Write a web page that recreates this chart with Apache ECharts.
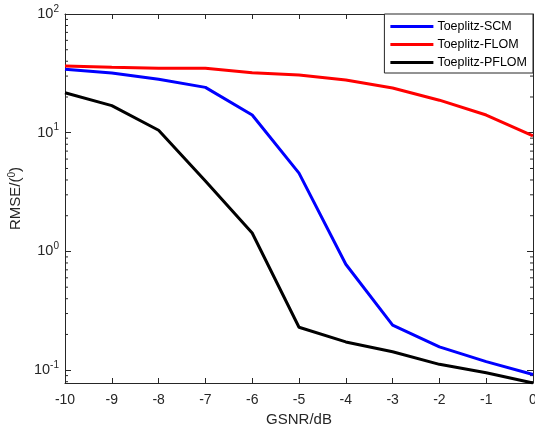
<!DOCTYPE html>
<html>
<head>
<meta charset="utf-8">
<script src="https://cdn.jsdelivr.net/npm/echarts@6/dist/echarts.min.js"></script>
<style>html,body{margin:0;padding:0;background:#fff}#c{width:535px;height:428px}</style>
</head>
<body>
<div id="c"></div>
<script>
const categories = [-10, -9, -8, -7, -6, -5, -4, -3, -2, -1, 0];
const scm   = [34.2, 31.9, 28.2, 24.1, 14.1, 4.57, 0.78, 0.24, 0.157, 0.118, 0.092];
const flom  = [36.5, 35.6, 35.0, 35.0, 32.0, 30.6, 27.8, 23.8, 18.8, 14.1, 9.4];
const pflom = [21.7, 16.9, 10.5, 3.92, 1.43, 0.23, 0.173, 0.143, 0.112, 0.095, 0.078];
const seriesNames = ['Toeplitz-SCM', 'Toeplitz-FLOM', 'Toeplitz-PFLOM'];
const xTicks = [-10, -9, -8, -7, -6, -5, -4, -3, -2, -1, 0];
const yMin = 0.078, yMax = 100;

const minorVals = [];
for (let e = -2; e < 2; e++) for (let m = 2; m <= 9; m++) {
  const v = m * Math.pow(10, e);
  if (v > yMin && v < yMax) minorVals.push(v);
}

const txt = '#262626';
const chart = echarts.init(document.getElementById('c'), null, {renderer: 'canvas'});
const pair = arr => categories.map((x, i) => [x, arr[i]]);
const lineSeries = (name, arr, color) => ({
  name, type: 'line', data: pair(arr), showSymbol: false, symbol: 'none',
  lineStyle: {color, width: 3}, itemStyle: {color}, z: 3, animation: false
});

const supFmt = v => {
  const l = Math.log10(v);
  const r = Math.round(l);
  if (Math.abs(l - r) > 1e-6) return '';
  return '{b|10}{s|' + r + '}';
};

chart.setOption({
  animation: false,
  textStyle: {fontFamily: 'Liberation Sans, Arial, sans-serif'},
  grid: {left: 65, right: 2, top: 14, bottom: 45, containLabel: false, outerBoundsMode: 'none'},
  legend: {
    orient: 'vertical', right: 2, top: 14,
    data: seriesNames,
    icon: 'rect', itemWidth: 43, itemHeight: 3, itemGap: 5,
    padding: [6, 6, 4, 6],
    borderColor: txt, borderWidth: 1, backgroundColor: '#fff',
    textStyle: {fontSize: 12.5, color: '#000', padding: [0, 0, 0, -1]}
  },
  xAxis: [{
    type: 'value', min: -10, max: 0, interval: 1,
    name: 'GSNR/dB', nameLocation: 'middle', nameGap: 19,
    nameTextStyle: {fontSize: 15, color: txt},
    axisLine: {lineStyle: {color: txt, width: 1}},
    axisTick: {inside: true, length: 5, lineStyle: {color: txt}},
    axisLabel: {color: txt, fontSize: 14, margin: 10, formatter: v => String(v)},
    splitLine: {show: false}
  }, {
    type: 'value', min: -10, max: 0, interval: 1, position: 'top',
    axisLine: {show: true, onZero: false, lineStyle: {color: txt, width: 1}},
    axisTick: {inside: true, length: 5, lineStyle: {color: txt}},
    axisLabel: {show: false}, splitLine: {show: false}
  }],
  yAxis: [{
    type: 'log', logBase: 10, min: yMin, max: yMax,
    name: '{n|RMSE/(}{s|0}{n|)}', nameLocation: 'middle', nameGap: 33,
    nameRotate: 90,
    nameTextStyle: {rich: {n: {fontSize: 15, color: txt}, s: {fontSize: 10, color: txt, verticalAlign: 'top', padding: [0, 0, 7, 0]}}},
    axisLine: {show: true, onZero: false, lineStyle: {color: txt, width: 1}},
    axisTick: {inside: true, length: 6, lineStyle: {color: txt}},
    axisLabel: {
      color: txt, margin: 6, showMinLabel: false,
      formatter: supFmt,
      rich: {b: {fontSize: 14.5, color: txt}, s: {fontSize: 10, color: txt, verticalAlign: 'top', padding: [0, 0, 10, 0]}}
    },
    splitLine: {show: false}
  }, {
    type: 'log', logBase: 10, min: yMin, max: yMax, position: 'right',
    axisLine: {show: true, onZero: false, lineStyle: {color: txt, width: 1}},
    axisTick: {inside: true, length: 6, lineStyle: {color: txt}},
    axisLabel: {show: false}, splitLine: {show: false}
  }],
  series: [
    lineSeries(seriesNames[0], scm, '#0000FF'),
    lineSeries(seriesNames[1], flom, '#FF0000'),
    lineSeries(seriesNames[2], pflom, '#000000'),
    {
      type: 'custom', silent: true, z: 2, clip: false, animation: false,
      data: minorVals.map(v => [-10, v]),
      renderItem: (params, api) => {
        const cs = params.coordSys;
        const p = api.coord([-10, api.value(1)]);
        const st = {stroke: txt, lineWidth: 1};
        return {type: 'group', children: [
          {type: 'line', shape: {x1: cs.x, y1: p[1], x2: cs.x + 3, y2: p[1]}, style: st},
          {type: 'line', shape: {x1: cs.x + cs.width - 3, y1: p[1], x2: cs.x + cs.width, y2: p[1]}, style: st}
        ]};
      }
    }
  ]
});
</script>
</body>
</html>
